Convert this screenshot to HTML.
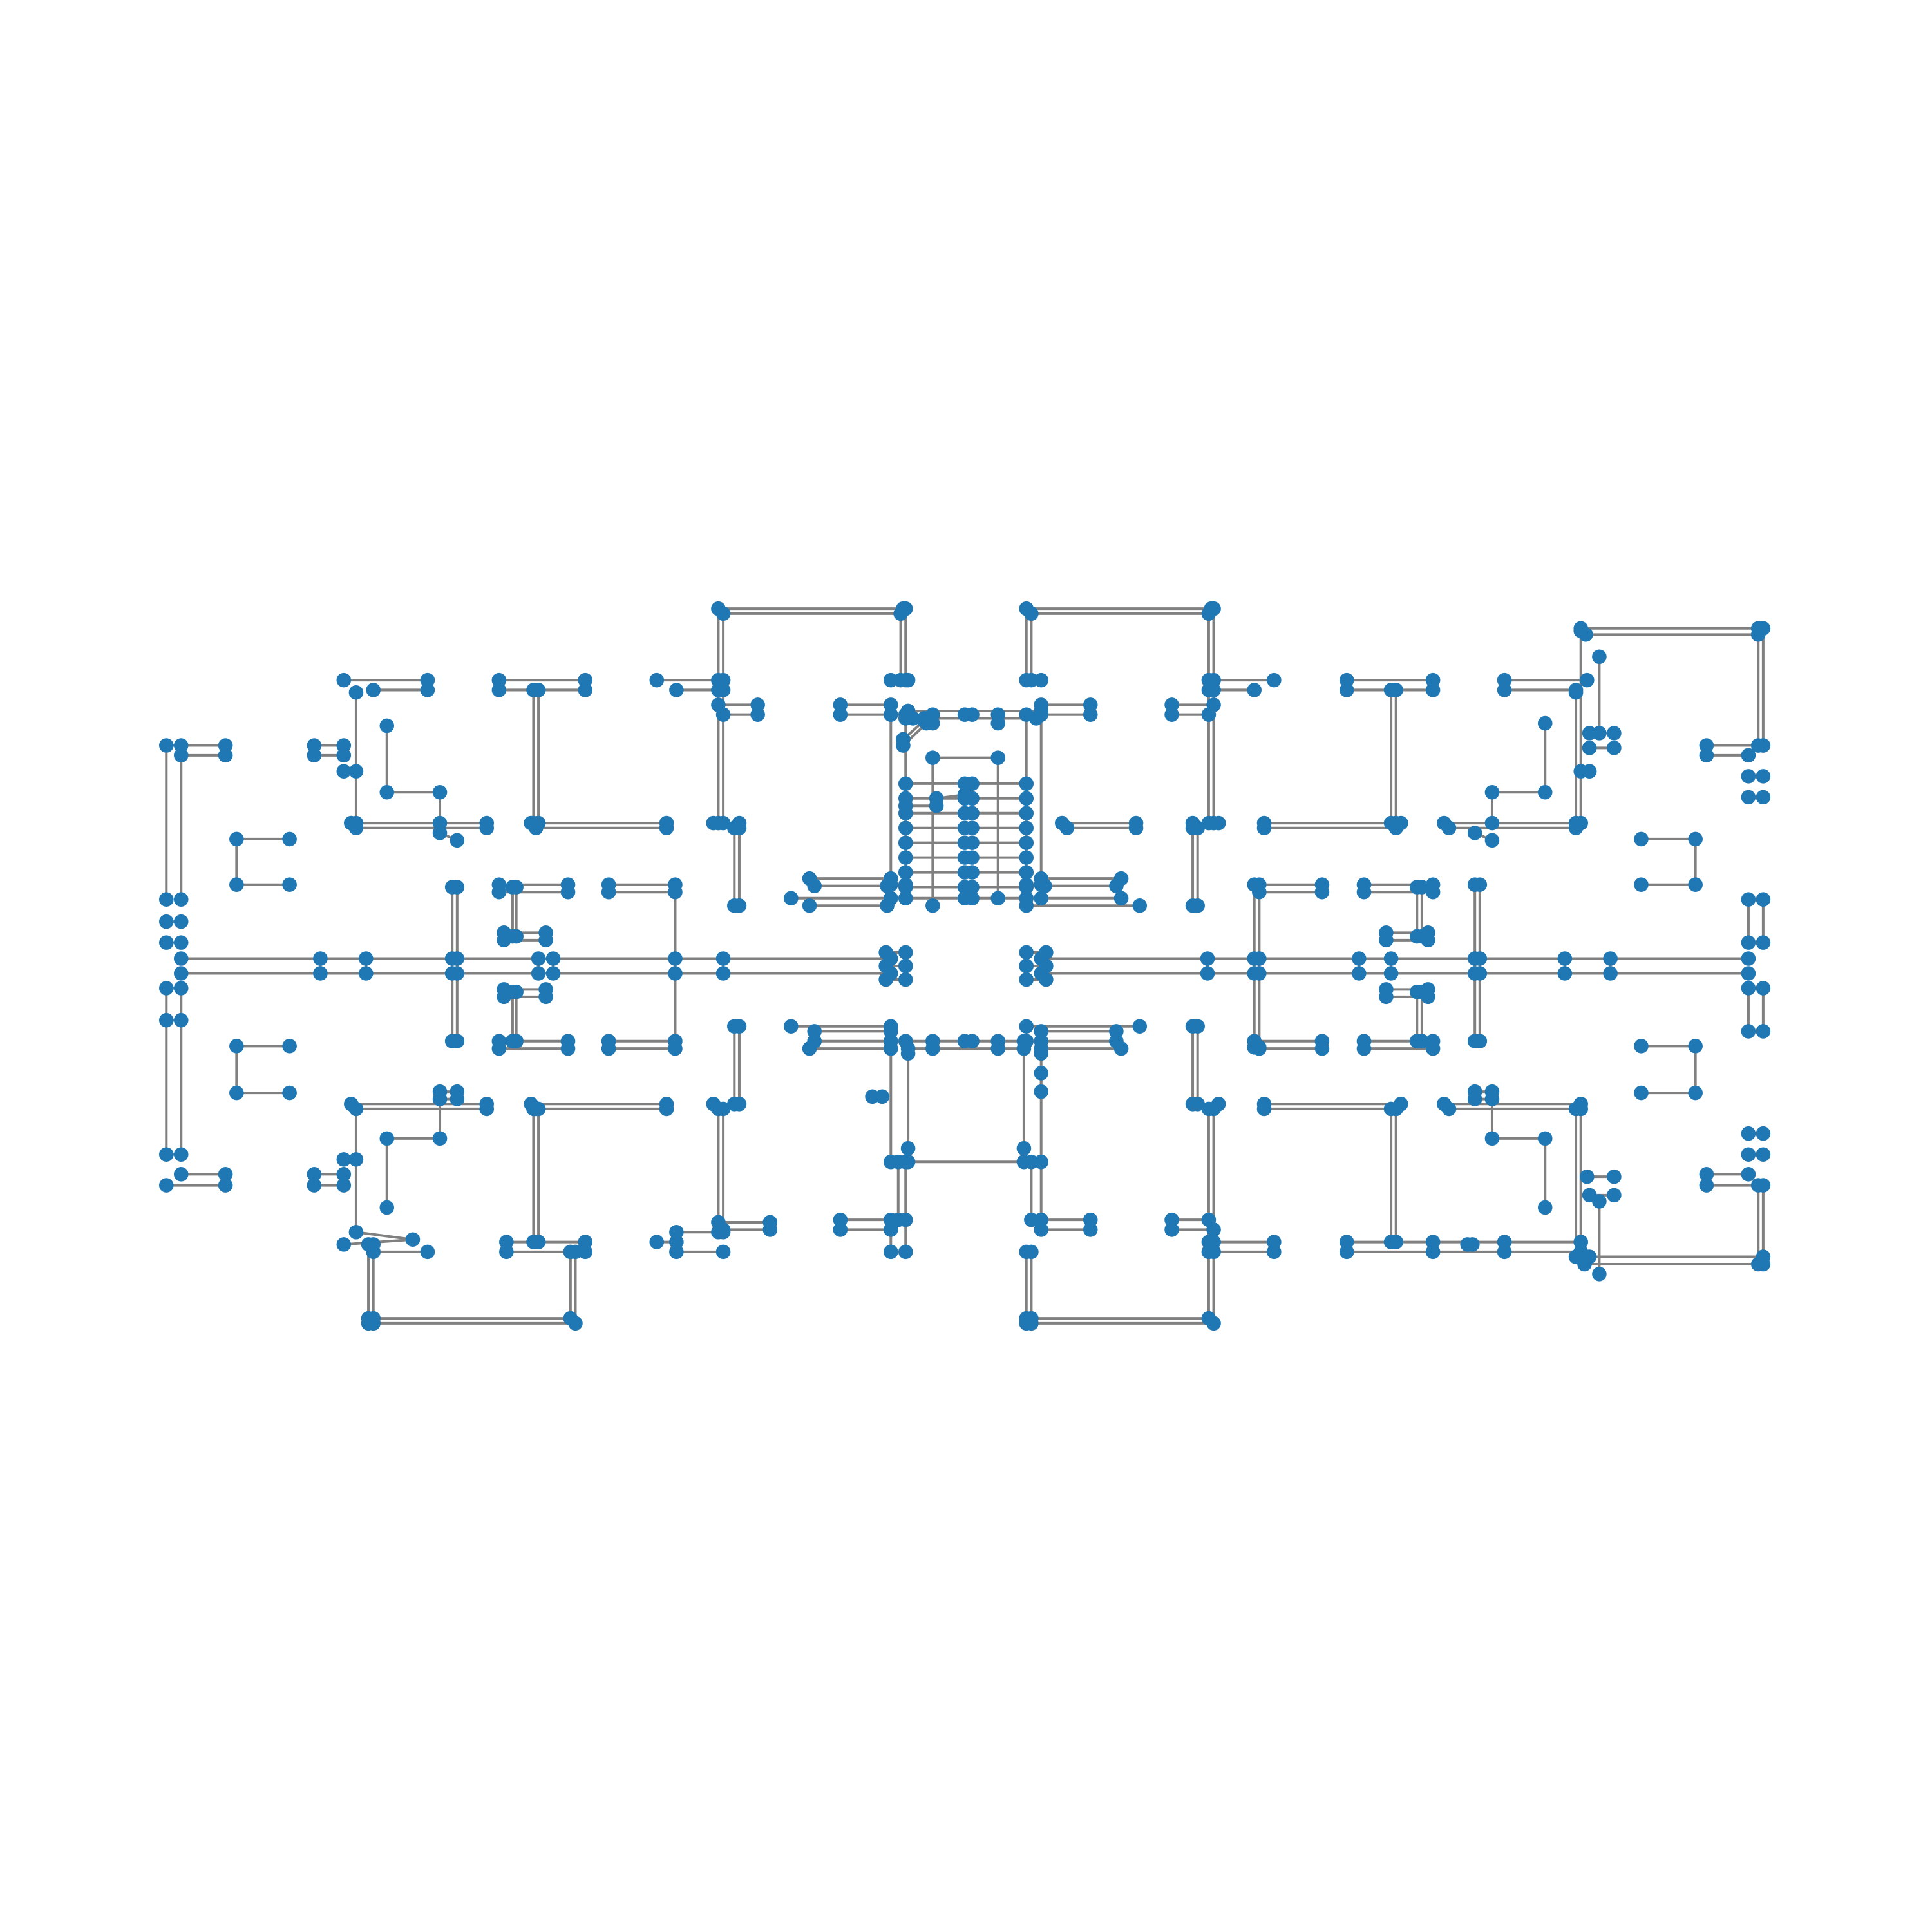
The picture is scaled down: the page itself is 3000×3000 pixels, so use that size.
<!DOCTYPE html>
<html><head><meta charset="utf-8"><style>html,body{margin:0;padding:0;background:#fff}svg{display:block}</style></head>
<body>
<svg id="chart" width="3000" height="3000" viewBox="0 0 1568 1568" xmlns="http://www.w3.org/2000/svg">
<rect width="1568" height="1568" fill="#fff"/>
<g id="edges"></g>
<g id="nodes"></g>
</svg>
<script>
// edges: [x1, y1, x2, y2] node coordinates (graph layout positions)
const edgesTop = [
[583,494,733,494],[587,498,731,498],[583,494,583,552],[587,498,587,552],[731,498,731,552],[735,494,735,552],
[833,494,983,494],[837,498,981,498],[833,494,833,552],[837,498,837,552],[981,498,981,552],[985,494,985,552],
[279,552,347,552],[303,560,347,560],[405,552,475,552],[405,560,475,560],[533,552,587,552],[549,560,587,560],
[723,552,737,552],[833,552,845,552],
[981,552,1034,552],[981,560,1018,560],[1093,552,1163,552],[1093,560,1163,560],[1221,552,1288,552],[1221,560,1279,560],
[289,562,289,668],[433,560,433,668],[437,560,437,668],[583,560,583,668],[587,560,587,668],
[981,560,981,668],[985,560,985,668],[1129,560,1129,668],[1133,560,1133,668],[1279,562,1279,668],
[314,589,314,643],[314,643,357,643],[357,643,357,668],[1254,587,1254,643],[1254,643,1211,643],[1211,643,1211,668],
[285,668,395,668],[289,672,395,672],[431,668,541,668],[435,672,541,672],[579,668,600,668],[968,668,989,668],
[1026,668,1137,668],[1026,672,1133,672],[1172,668,1283,668],[1176,672,1279,672],[862,668,922,668],[866,672,922,672],
[357,676,371,682],[1197,676,1211,682],
[596,672,596,735],[600,672,600,735],[968,672,968,735],[972,672,972,735],
[583,572,615,572],[587,580,615,580],[682,572,723,572],[682,580,723,580],[845,572,885,572],[845,580,885,580],[951,572,985,572],[951,580,981,580],
[1283,510,1431,510],[1287,515,1427,515],[1427,510,1427,605],[1431,510,1431,605],[1283,512,1283,668],[1298,533,1298,595],
[1385,605,1431,605],[1385,613,1419,613],[1419,630,1431,630],[1419,647,1431,647],[1283,626,1290,626],[1290,595,1310,595],[1290,607,1310,607]
];
const edgesCenter = [
[737,577,845,577],[741,583,841,583],[723,580,723,718],[735,580,735,718],[833,580,833,718],[845,580,845,718],
[735,583,750,583],[733,600,750,585],[733,605,752,587],[757,580,757,587],[783,580,789,580],[810,580,810,587],
[757,615,810,615],[757,615,757,735],[810,615,810,729],
[735,636,833,636],[735,648,833,648],[735,660,833,660],[735,672,833,672],[735,684,833,684],[735,696,833,696],[735,708,833,708],[735,720,833,720],
[783,636,789,636],[783,648,789,648],[783,660,789,660],[783,672,789,672],[783,684,789,684],[783,696,789,696],[783,708,789,708],[783,720,789,720],[783,729,789,729],
[735,654,760,654],[760,648,783,645],[735,729,833,729],
[657,713,723,713],[661,719,720,719],[642,729,723,729],[657,735,720,735],
[845,713,910,713],[848,719,906,719],[833,735,925,735],[845,729,910,729],
[642,833,723,833],[661,837,723,837],[661,845,723,845],[657,851,723,851],
[833,833,925,833],[845,837,906,837],[845,845,906,845],[845,851,910,851],
[735,845,833,845],[737,851,831,851],[757,845,757,851],[783,845,789,845],[810,845,810,851],
[723,845,723,943],[737,855,737,932],[831,845,831,932],[845,855,845,943],[737,943,831,943],
[729,943,729,990],[735,943,735,990],[837,943,837,990],[845,943,845,990],[845,871,845,886],[708,890,716,890],
[723,990,723,1016],[735,990,735,1016],
[719,773,735,773],[719,784,735,784],[719,795,735,795],[833,773,849,773],[833,784,849,784],[833,795,849,795]
];
const edgesLeft = [
[135,605,135,730],[147,605,147,730],[135,605,183,605],[147,613,183,613],[255,605,279,605],[255,613,279,613],[279,626,289,626],
[192,681,235,681],[192,681,192,718],[192,718,235,718],
[135,748,147,748],[135,765,147,765],
[147,778,723,778],[147,790,723,790],
[367,720,367,845],[371,720,371,845],[548,718,548,845],[416,720,416,760],[419,720,419,760],[416,805,416,845],[419,805,419,845],
[405,718,461,718],[405,724,461,724],[494,718,548,718],[494,724,548,724],[409,757,443,757],[409,763,443,763],
[409,803,443,803],[409,809,443,809],[405,845,461,845],[405,851,461,851],[494,845,548,845],[494,851,548,851],
[437,778,437,790],[449,778,449,790],[260,778,260,790],[297,778,297,790],[587,778,587,790],[367,778,371,778],[367,790,371,790],[548,778,548,790],
[135,802,135,937],[147,802,147,937],[135,802,147,802],[135,828,147,828],
[192,849,235,849],[192,849,192,887],[192,887,235,887]
];
const edgesRight = [
[845,778,1419,778],[845,790,1419,790],
[1018,718,1018,850],[1022,718,1022,850],[1197,718,1197,845],[1201,718,1201,845],[1150,720,1150,760],[1154,720,1154,760],[1150,805,1150,845],[1154,805,1154,845],
[1018,718,1073,718],[1022,724,1073,724],[1107,718,1163,718],[1107,724,1163,724],[1125,757,1159,757],[1125,763,1159,763],
[1125,803,1159,803],[1125,809,1159,809],[1018,845,1073,845],[1022,851,1073,851],[1107,845,1163,845],[1107,851,1163,851],
[980,778,980,790],[1103,778,1103,790],[1129,778,1129,790],[1270,778,1270,790],[1307,778,1307,790],[1018,778,1022,778],[1018,790,1022,790],[1197,778,1201,778],[1197,790,1201,790],
[1419,730,1419,765],[1431,730,1431,765],[1419,802,1419,837],[1431,802,1431,837],
[1332,681,1376,681],[1376,681,1376,718],[1332,718,1376,718],[1332,849,1376,849],[1376,849,1376,887],[1332,887,1376,887]
];
const edgesBottom = [
[285,896,395,896],[289,900,395,900],[431,896,541,896],[435,900,541,900],[579,896,600,896],[968,896,989,896],
[1026,896,1137,896],[1026,900,1133,900],[1172,896,1283,896],[1176,900,1279,900],
[357,886,371,886],[357,892,371,892],[1197,886,1211,886],[1197,892,1211,892],
[289,900,289,1000],[433,900,433,1008],[437,900,437,1008],[583,900,583,1000],[587,900,587,1000],
[981,900,981,1008],[985,900,985,1008],[1129,900,1129,1008],[1133,900,1133,1008],[1279,900,1279,1020],[1283,900,1283,1020],
[314,924,357,924],[314,924,314,980],[357,924,357,886],[1211,924,1254,924],[1254,924,1254,980],[1211,924,1211,886],
[596,833,596,896],[600,833,600,896],[968,833,968,896],[972,833,972,896],
[279,1010,335,1006],[289,1000,335,1006],[303,1016,347,1016],[411,1008,475,1008],[411,1016,475,1016],
[533,1008,549,1008],[549,1000,587,1000],[549,1016,587,1016],[583,992,625,992],[587,998,625,998],
[682,990,723,990],[682,998,723,998],[845,990,885,990],[845,998,885,998],[951,990,981,990],[951,998,985,998],
[981,1008,1034,1008],[981,1016,1034,1016],[1093,1008,1283,1008],[1093,1016,1283,1016],[1163,1008,1163,1016],[1191,1010,1195,1010],[1221,1008,1221,1016],
[1290,1020,1431,1020],[1286,1026,1427,1026],
[299,1010,299,1074],[303,1010,303,1070],[463,1016,463,1070],[467,1016,467,1074],[299,1070,463,1070],[303,1074,467,1074],
[833,1016,833,1074],[837,1016,837,1070],[981,1016,981,1070],[985,1016,985,1074],[833,1070,981,1070],[837,1074,985,1074],
[1427,962,1427,1026],[1431,962,1431,1026],[1298,975,1298,1034],
[135,937,147,937],[147,953,183,953],[135,962,183,962],[255,953,279,953],[255,962,279,962],[279,941,289,941],
[1385,953,1419,953],[1385,962,1431,962],[1419,937,1431,937],[1419,920,1431,920],
[1288,955,1310,955],[1290,970,1310,970]
];
const allEdges = [].concat(edgesTop, edgesCenter, edgesLeft, edgesRight, edgesBottom);
const NS = 'http://www.w3.org/2000/svg';
const eg = document.getElementById('edges');
const ng = document.getElementById('nodes');
const seen = new Set();
const pts = [];
allEdges.forEach(function(e){
  const l = document.createElementNS(NS,'line');
  l.setAttribute('x1',e[0]);l.setAttribute('y1',e[1]);l.setAttribute('x2',e[2]);l.setAttribute('y2',e[3]);
  l.setAttribute('stroke','#808080');l.setAttribute('stroke-width','2.1');
  
  
  eg.appendChild(l);
  [[e[0],e[1]],[e[2],e[3]]].forEach(function(p){
    const k=p[0]+','+p[1];
    if(!seen.has(k)){seen.add(k);pts.push(p);}
  });
});
pts.forEach(function(p){
  const c = document.createElementNS(NS,'circle');
  c.setAttribute('cx',p[0]);c.setAttribute('cy',p[1]);c.setAttribute('r','5.9');
  c.setAttribute('fill','#1f77b4');
  
  
  ng.appendChild(c);
});
</script>
</body></html>
